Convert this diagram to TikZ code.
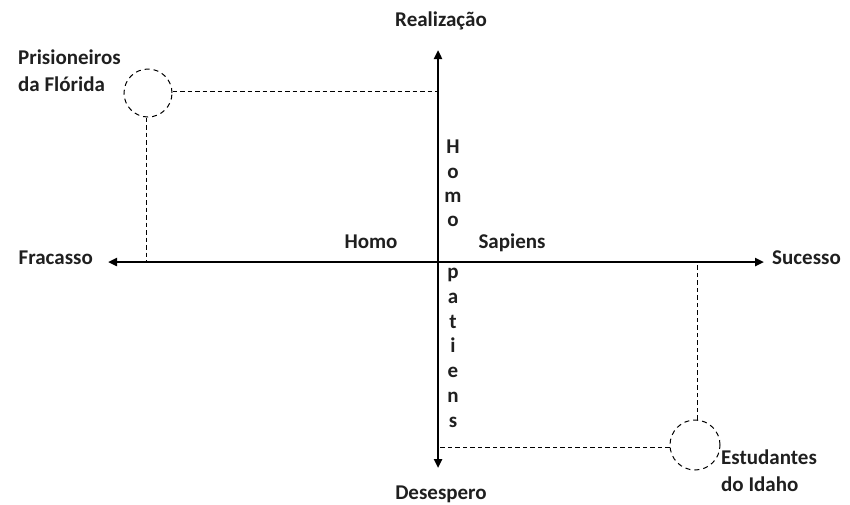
\documentclass[tikz,border=0pt]{standalone}
\usepackage{fontspec}
\setmainfont{Carlito}
\usetikzlibrary{arrows.meta}
\begin{document}
\begin{tikzpicture}[x=1pt,y=-1pt,
  lbl/.style={font=\bfseries\fontsize{21}{27}\selectfont, text=black!88, inner sep=0pt},
  axis/.style={line width=2.5pt, -{Triangle[length=9pt,width=8pt]}},
  dline/.style={line width=1pt, dash pattern=on 4.5pt off 3pt},
  ring/.style={circle, draw, line width=1pt, dash pattern=on 5pt off 4pt, minimum size=48pt, inner sep=0pt}]
\useasboundingbox (0,0) rectangle (850,504);
% axes
\coordinate (O) at (438,262);
\coordinate (top) at (438,50);
\coordinate (bot) at (438,468);
\coordinate (lft) at (108,262);
\coordinate (rgt) at (764,262);
\draw[axis] (O) -- (top);
\draw[axis] (O) -- (bot);
\draw[axis] (O) -- (lft);
\draw[axis] (O) -- (rgt);
% labels
\node[lbl] (real) at (441,21) {Realização};
\node[lbl] (des) at (441,494) {Desespero};
\node[lbl, anchor=east] (fra) at (93,258) {Fracasso};
\node[lbl, anchor=west] (suc) at (772,258) {Sucesso};
\node[lbl] (homo) at (371,242) {Homo};
\node[lbl] (sap) at (512,243) {Sapiens};
% vertical letters
\foreach \l/\y [count=\i] in {H/148,o/173,m/197,o/221,p/273,a/298,t/323,i/347,e/372,n/397,s/422}
  \node[lbl, anchor=base] (v\i) at (453,\y+5) {\l};
% circles
\node[ring] (flo) at (148,93) {};
\node[ring, minimum size=50pt] (ida) at (695,445) {};
\coordinate (fh) at (438,91);
\coordinate (fv) at (146,262);
\coordinate (ih) at (438,447);
\coordinate (iv) at (697,262);
\draw[dline] (flo.east |- fh) -- (fh);
\draw[dline] (flo.south -| fv) -- (fv);
\draw[dline] (ida.west |- ih) -- (ih);
\draw[dline] (ida.north -| iv) -- (iv);
\node[lbl, align=left, anchor=north west] (pf) at (18,50) {Prisioneiros\\da Flórida};
\node[lbl, align=left, anchor=north west] (ei) at (721,450) {Estudantes\\do Idaho};
\end{tikzpicture}
\end{document}
